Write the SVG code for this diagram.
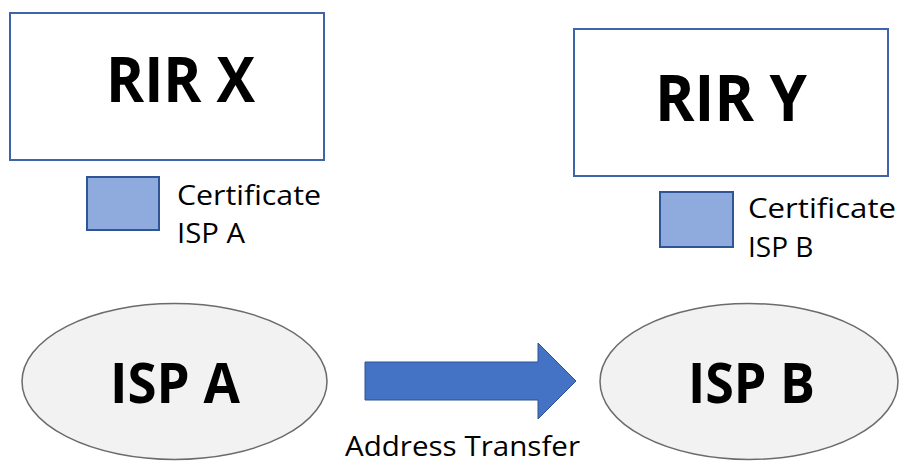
<svg xmlns="http://www.w3.org/2000/svg" width="899" height="461" viewBox="0 0 899 461">
<style>
.rir{fill:#ffffff;stroke:#3f64a8;stroke-width:2}
.cert{fill:#8faadc;stroke:#2f5597;stroke-width:2}
.isp{fill:#f2f2f2;stroke:#6b6b6b;stroke-width:1.5}
.big{font-family:"Open Sans","Liberation Sans",sans-serif;font-weight:bold;fill:#000}
.lbl{font-family:"Open Sans","Liberation Sans",sans-serif;fill:#000}
</style>
<rect width="899" height="461" fill="#ffffff"/>
<g id="rir-x">
<rect class="rir" x="10" y="13" width="314" height="147"/>
<text class="big" x="106" y="102" font-size="62" textLength="149" lengthAdjust="spacingAndGlyphs">RIR X</text>
</g>
<g id="rir-y">
<rect class="rir" x="574" y="29" width="314" height="147"/>
<text class="big" x="655" y="121" font-size="65" textLength="152" lengthAdjust="spacingAndGlyphs">RIR Y</text>
</g>
<g id="cert-a">
<rect class="cert" x="87" y="177" width="72" height="53"/>
<text class="lbl" x="177" y="205" font-size="28" textLength="144" lengthAdjust="spacingAndGlyphs">Certificate</text>
<text class="lbl" x="177" y="243" font-size="28" textLength="68" lengthAdjust="spacingAndGlyphs">ISP A</text>
</g>
<g id="cert-b">
<rect class="cert" x="660" y="192" width="73" height="55"/>
<text class="lbl" x="748" y="218" font-size="28" textLength="148" lengthAdjust="spacingAndGlyphs">Certificate</text>
<text class="lbl" x="748" y="257" font-size="28">ISP B</text>
</g>
<g id="isp-a">
<ellipse class="isp" cx="174.5" cy="381.5" rx="152.5" ry="78"/>
<text class="big" x="110" y="403" font-size="56" textLength="130" lengthAdjust="spacingAndGlyphs">ISP A</text>
</g>
<g id="isp-b">
<ellipse class="isp" cx="749" cy="381.5" rx="149" ry="78"/>
<text class="big" x="688" y="403" font-size="56" textLength="127" lengthAdjust="spacingAndGlyphs">ISP B</text>
</g>
<g id="connectors">
<path d="M365,362 L538,362 L538,343 L576,381 L538,419 L538,400 L365,400 Z" fill="#4472c4" stroke="#2f528f" stroke-width="1"/>
<text class="lbl" x="345" y="456" font-size="27" textLength="235" lengthAdjust="spacingAndGlyphs">Address Transfer</text>
</g>
</svg>
